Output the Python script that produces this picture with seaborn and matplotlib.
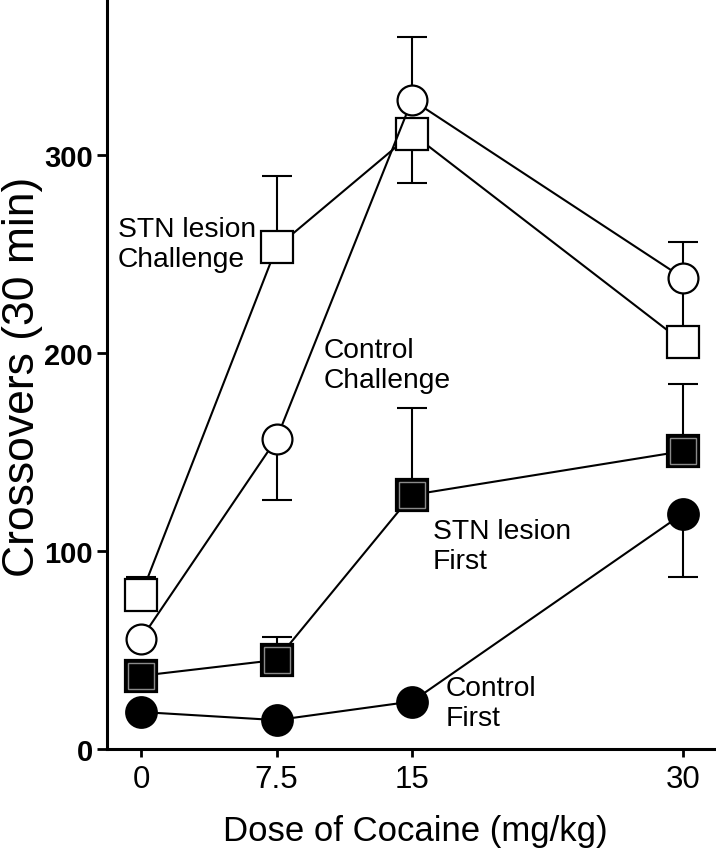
import numpy as np
import pandas as pd
import matplotlib
matplotlib.use("Agg")
import matplotlib.pyplot as plt
import seaborn as sns

# ---------------- data ----------------
doses = [0, 7.5, 15, 30]
dose_labels = ["0", "7.5", "15", "30"]

control_first = [18.7, 14.6, 24.0, 119.0]
control_first_lo = [0, 0, 0, 32]
control_first_hi = [0, 0, 0, 0]

stn_first = [37.0, 45.0, 128.4, 150.5]
stn_first_lo = [0, 0, 0, 0]
stn_first_hi = [5, 11.6, 44, 34]

control_chal = [55.6, 156.7, 328.0, 238.0]
control_chal_lo = [0, 31, 0, 0]
control_chal_hi = [0, 0, 32, 18]

stn_chal = [77.8, 253.5, 311.0, 205.5]
stn_chal_lo = [0, 0, 25, 0]
stn_chal_hi = [9, 36, 0, 32]

y_ticks = [0, 100, 200, 300]

# ---------------- style ----------------
sns.set_theme(style="white")
plt.rcParams["font.family"] = ["Liberation Sans", "DejaVu Sans"]

fig = plt.figure(figsize=(7.16, 8.53), dpi=100)
ax = fig.add_axes([107 / 716, 1 - 750 / 853, 1 - 107 / 716, 750 / 853])

LW = 1.5


def draw_series(y, lo, hi, marker, face, size, edge="black", ring=False):
    ax.errorbar(doses, y, yerr=[lo, hi], fmt="none", ecolor="black",
                elinewidth=LW, capsize=11, capthick=LW, zorder=1)
    df = pd.DataFrame({"dose": doses, "value": y})
    sns.lineplot(data=df, x="dose", y="value", ax=ax, color="black",
                 linewidth=LW, marker=marker, markersize=size,
                 markerfacecolor=face, markeredgecolor=edge,
                 markeredgewidth=1.6, zorder=3)
    if ring:
        sns.lineplot(data=df, x="dose", y="value", ax=ax, color="black",
                     linestyle="", marker=marker, markersize=size - 4,
                     markerfacecolor="none", markeredgecolor="#8a8a8a",
                     markeredgewidth=1.0, zorder=4)


draw_series(control_first, control_first_lo, control_first_hi, "o", "black", 22)
draw_series(stn_first, stn_first_lo, stn_first_hi, "s", "black", 23, ring=True)
draw_series(stn_chal, stn_chal_lo, stn_chal_hi, "s", "white", 23)
draw_series(control_chal, control_chal_lo, control_chal_hi, "o", "white", 21.5)

# annotations
txt_kw = dict(ha="left", va="center", fontsize=20.3, linespacing=1.2,
              color="black")
ax.text(-1.27, 255, "STN lesion\nChallenge", **txt_kw)
ax.text(10.13, 194, "Control\nChallenge", **txt_kw)
ax.text(16.16, 102.5, "STN lesion\nFirst", **txt_kw)
ax.text(16.88, 23.2, "Control\nFirst", **txt_kw)

# axes
ax.set_xlim(-1.88, 31.82)
ax.set_ylim(0, 379)
ax.set_xticks(doses)
ax.set_xticklabels(dose_labels, fontsize=22.5)
ax.set_yticks(y_ticks)
ax.set_yticklabels([str(v) for v in y_ticks], fontsize=21, fontweight="bold")
ax.tick_params(axis="y", direction="out", length=7, width=2.0, pad=3,
               left=True, colors="black")
ax.tick_params(axis="x", direction="out", length=6, width=2.0, pad=5,
               bottom=True, colors="black")

for s in ["top", "right"]:
    ax.spines[s].set_visible(False)
for s in ["left", "bottom"]:
    ax.spines[s].set_linewidth(2.2)
    ax.spines[s].set_color("black")

ax.set_xlabel("Dose of Cocaine (mg/kg)", fontsize=25, color="black")
ax.xaxis.set_label_coords((415 - 107) / 609, (750 - 815) / 750)
ax.set_ylabel("Crossovers (30 min)", fontsize=32, color="black")
ax.yaxis.set_label_coords((43 - 107) / 609, (750 - 377) / 750)
ax.grid(False)

fig.savefig("out.png", dpi=100)
